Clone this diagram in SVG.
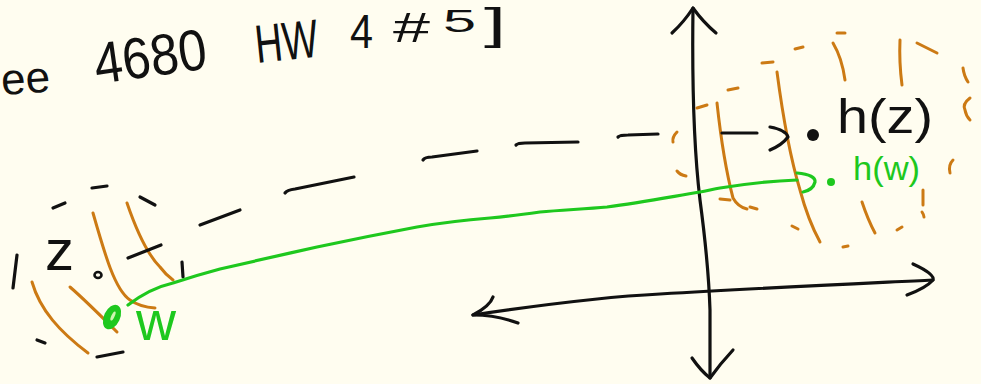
<svg xmlns="http://www.w3.org/2000/svg" width="981" height="384" viewBox="0 0 981 384">
<style>
.bk{fill:none;stroke:#111;stroke-width:3.2;stroke-linecap:round;stroke-linejoin:round}
.or{fill:none;stroke:#cc7a14;stroke-width:3;stroke-linecap:round;stroke-linejoin:round}
.gr{fill:none;stroke:#1ec81e;stroke-width:3.2;stroke-linecap:round;stroke-linejoin:round}
.t{font-family:"Liberation Sans","DejaVu Sans",sans-serif;fill:#111}
.tg{font-family:"Liberation Sans","DejaVu Sans",sans-serif;fill:#1ec81e}
</style>
<rect width="981" height="384" fill="#fffdf0"/>

<g id="title">
<text class="t" x="2" y="95" font-size="44" transform="rotate(-4 2 95)">ee</text>
<text class="t" x="97" y="84" font-size="58" textLength="113" lengthAdjust="spacingAndGlyphs" transform="rotate(-8 97 84)">4680</text>
<text class="t" x="257" y="63" font-size="54" textLength="63" lengthAdjust="spacingAndGlyphs" transform="rotate(-6 257 63)">HW</text>
<text class="t" x="350" y="48" font-size="48" textLength="23" lengthAdjust="spacingAndGlyphs">4</text>
<text class="t" x="393" y="42" font-size="42" textLength="37" lengthAdjust="spacingAndGlyphs">#</text>
<text class="t" x="443" y="32" font-size="32" textLength="33" lengthAdjust="spacingAndGlyphs">5</text>
<text class="t" x="484" y="39" font-size="44" textLength="22" lengthAdjust="spacingAndGlyphs">]</text>
</g>

<g id="axes">
<path class="bk" d="M693,8 C692,80 694,150 700,200 C706,245 709,280 710,310 L710,378"/>
<path class="bk" d="M672,33 Q684,22 693,8 Q703,22 716,33"/>
<path class="bk" d="M692,358 Q701,371 710,378 Q720,364 733,350"/>
<path class="bk" d="M473,315 C540,305 600,297 660,294 C760,288 850,284 933,280"/>
<path class="bk" d="M493,297 Q490,306 473,315 Q496,315 518,323"/>
<path class="bk" d="M913,264 Q935,274 933,280 Q926,288 907,295"/>
</g>

<g id="domain">
<g id="left-circle">
<path class="bk" d="M53,208 L65,203"/>
<path class="bk" d="M92,188 L107,186"/>
<path class="bk" d="M140,197 L155,205"/>
<path class="bk" d="M182,262 L183,277"/>
<path class="bk" d="M97,357 L123,352"/>
<path class="bk" d="M37,340 L45,343"/>
<path class="bk" d="M13,288 L17,255"/>
</g>
<g id="left-hatch">
<path class="or" d="M32,282 C40,310 60,332 88,353"/>
<path class="or" d="M70,287 C85,300 105,320 117,332"/>
<path class="or" d="M93,213 C105,255 115,290 130,300 Q140,307 155,308"/>
<path class="or" d="M127,203 C138,235 148,255 160,267 Q166,275 173,280"/>
</g>
<g id="z">
<text class="t" x="45" y="270" font-size="58">z</text>
<ellipse cx="98" cy="275" rx="3.5" ry="3" fill="none" stroke="#111" stroke-width="2.6"/>
</g>
<g id="w">
<ellipse cx="112" cy="317" rx="8" ry="13" transform="rotate(25 112 317)" fill="#1ec81e"/>
<ellipse cx="113" cy="316" rx="1.6" ry="5" transform="rotate(25 113 316)" fill="#cff5b0"/>
<text class="tg" x="136" y="340" font-size="56" textLength="40" lengthAdjust="spacingAndGlyphs">w</text>
</g>
</g>

<g id="image">
<g id="right-hatch">
<path class="or" d="M717,103 C721,140 727,175 733,198 Q738,207 747,209"/>
<path class="or" d="M720,199 L730,200"/>
<path class="or" d="M750,207 L757,209"/>
<path class="or" d="M777,72 C782,110 788,150 800,190 Q808,220 820,242"/>
<path class="or" d="M697,108 L707,105"/>
<path class="or" d="M728,90 L738,88"/>
<path class="or" d="M762,63 L773,62"/>
<path class="or" d="M795,49 L803,47"/>
<path class="or" d="M837,33 L845,33"/>
<path class="or" d="M833,43 Q842,58 845,80"/>
<path class="or" d="M900,40 Q899,62 902,85"/>
<path class="or" d="M917,43 L937,53"/>
<path class="or" d="M963,68 Q964,76 968,82"/>
<path class="or" d="M970,98 Q962,104 965,110 Q966,116 970,120"/>
<path class="or" d="M953,160 Q948,165 950,173"/>
<path class="or" d="M923,190 L923,205"/>
<path class="or" d="M922,212 Q924,215 924,217"/>
<path class="or" d="M862,202 Q868,220 875,233"/>
<path class="or" d="M897,230 L902,227"/>
<path class="or" d="M843,247 L848,246"/>
<path class="or" d="M792,226 L798,229"/>
<path class="or" d="M677,132 Q672,137 673,142"/>
<path class="or" d="M677,171 Q680,175 686,176"/>
</g>
<g id="hz">
<circle cx="813" cy="135" r="6" fill="#111"/>
<text class="t" x="837" y="133" font-size="48" textLength="96" lengthAdjust="spacingAndGlyphs">h(z)</text>
</g>
<g id="hw">
<circle cx="831" cy="182" r="4" fill="#1ec81e"/>
<text class="tg" x="853" y="180" font-size="34" textLength="67" lengthAdjust="spacingAndGlyphs">h(w)</text>
</g>
</g>

<g id="connectors">
<g id="z-to-hz">
<path class="bk" d="M128,258 L161,245"/>
<path class="bk" d="M200,225 L240,210"/>
<path class="bk" d="M285,193 Q287,190 295,189 L354,177"/>
<path class="bk" d="M423,160 Q425,157 432,157 L477,151"/>
<path class="bk" d="M516,145 Q518,143 525,143 L578,142"/>
<path class="bk" d="M618,137 Q620,135 628,135 L658,134"/>
<path class="bk" d="M722,133 L757,133"/>
<path class="bk" d="M770,127 Q786,130 788,137 Q782,145 770,150"/>
</g>
<g id="w-to-hw">
<path class="gr" d="M128,305 C145,292 160,286 173,283 C188,278 205,273 220,269 C255,261 285,254 317,247 C350,240 385,233 417,227 C440,223 465,220 490,218 C510,216 525,214 540,212 C562,210 585,209 607,207 C640,203 670,197 700,192 C707,191 713,189 720,188 C745,184 770,181 797,180"/>
<path class="gr" d="M797,173 Q816,175 815,182 Q813,190 803,192"/>
</g>
</g>
</svg>
